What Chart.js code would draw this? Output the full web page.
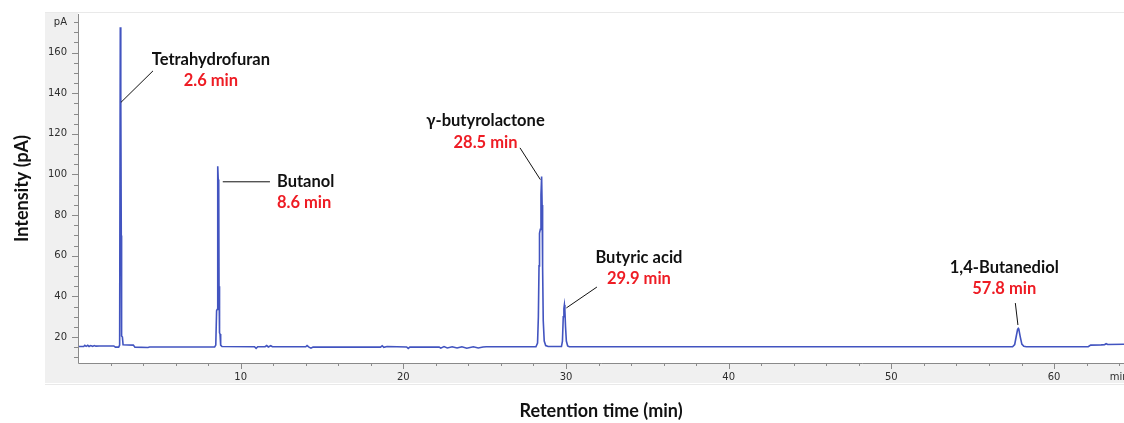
<!DOCTYPE html>
<html>
<head>
<meta charset="utf-8">
<script src="https://cdn.jsdelivr.net/npm/chart.js@4.4.1/dist/chart.umd.min.js"></script>
<style>
  html, body { margin: 0; padding: 0; background: #ffffff; }
  #wrap { width: 1124px; height: 423px; position: relative; }
</style>
</head>
<body>
<div id="wrap"><canvas id="chromatogram"></canvas></div>
<script>
// FID trace: retention time (min) and detector signal (pA)
const traceTime = [
  0, 0.35, 0.42, 0.5, 0.6, 0.68, 0.78, 0.9, 1.0, 1.1, 1.3, 1.6, 2.0, 2.2, 2.3, 2.5,
  2.56, 2.60, 2.62, 2.64, 2.66, 2.68, 2.73, 2.77, 3.4, 3.5, 4.3, 4.4, 8.4,
  8.47, 8.52, 8.55, 8.58, 8.60, 8.62, 8.65, 8.67, 8.70, 8.73, 8.77, 8.85,
  10.85, 10.95, 11.05, 11.5, 11.6, 11.7, 11.85, 11.95, 14.0, 14.08, 14.2, 14.32, 14.45,
  18.6, 18.7, 18.8, 19.0, 20.2, 20.3, 20.4, 22.2, 22.3, 22.5, 22.7, 23.0, 23.3, 23.6,
  23.9, 24.3, 24.6, 24.9, 25.1, 28.15, 28.25, 28.3, 28.34, 28.37, 28.42, 28.46, 28.50,
  28.53, 28.56, 28.6, 28.66, 28.75, 28.9, 29.72, 29.78, 29.83, 29.87, 29.90, 29.93,
  29.97, 30.02, 30.1, 30.2, 57.45, 57.58, 57.68, 57.76, 57.80, 57.84, 57.92, 58.02,
  58.14, 58.3, 62.1, 62.25, 62.9, 63.1, 63.2, 63.3, 64.5
];
const traceSignal = [
  15.3, 15.3, 15.9, 15.4, 15.9, 15.3, 15.8, 15.4, 15.8, 15.5, 15.6, 15.6, 15.6, 15.6, 15.0, 15.0,
  16.0, 172.5, 140, 139, 70, 20.5, 20.0, 16.2, 16.0, 15.0, 14.8, 15.1, 15.1,
  16.0, 33, 33.5, 60, 104, 97.5, 96.5, 45, 22, 21.5, 16.0, 15.3,
  15.2, 14.4, 15.2, 15.2, 15.8, 15.1, 15.7, 15.2, 15.2, 15.8, 15.0, 14.5, 15.1,
  15.0, 15.7, 14.9, 15.3, 15.1, 14.4, 15.0, 15.0, 14.5, 15.3, 14.6, 15.2, 14.6, 15.2,
  14.5, 15.2, 14.6, 15.1, 15.2, 15.2, 17, 30, 55, 71, 73, 90, 99,
  85, 55, 28, 18, 15.8, 15.3, 15.3, 18, 30, 34, 35.8, 33,
  25, 18, 15.6, 15.2, 15.2, 16.3, 20.5, 23.8, 24.2, 23.6, 20.2, 16.5,
  15.4, 15.2, 15.2, 16.0, 16.1, 16.2, 16.7, 16.3, 16.5
];

// Identified compounds and their retention times (min)
const compounds = ['Tetrahydrofuran', 'Butanol', 'γ-butyrolactone', 'Butyric acid', '1,4-Butanediol'];
const retentionTimes = [2.6, 8.6, 28.5, 29.9, 57.8];

// Axis ticks (minor + labelled)
const xTickValues = [2, 4, 6, 8, 10, 12, 14, 16, 18, 20, 22, 24, 26, 28, 30, 32, 34, 36, 38, 40,
  42, 44, 46, 48, 50, 52, 54, 56, 58, 60, 62, 64];
const xTickLabels = ['', '', '', '', '10', '', '', '', '', '20', '', '', '', '', '30', '', '', '', '', '40',
  '', '', '', '', '50', '', '', '', '', '60', '', 'min'];
const yTickValues = [10, 15, 20, 25, 30, 35, 40, 45, 50, 55, 60, 65, 70, 75, 80, 85, 90, 95, 100,
  105, 110, 115, 120, 125, 130, 135, 140, 145, 150, 155, 160, 165, 170, 175];
const yTickLabels = ['', '', '20', '', '', '', '40', '', '', '', '60', '', '', '', '80', '', '', '', '100',
  '', '', '', '120', '', '', '', '140', '', '', '', '160', '', '', 'pA'];

// Where each compound label sits (data coordinates) and where its leader line runs
const labelPlacement = [
  { x: 8.17, align: 'center', nameY: 156.5, timeY: 146.1, from: [4.61, 151.0], to: [0.04, 135.5] },
  { x: 12.23, align: 'left', nameY: 96.4, timeY: 86.0, from: [11.80, 96.4], to: [0.30, 96.4] },
  { x: 25.05, align: 'center', nameY: 126.4, timeY: 115.6, from: [27.17, 113.1], to: [-0.08, 97.5] },
  { x: 34.48, align: 'center', nameY: 58.9, timeY: 48.6, from: [31.9, 44.6], to: [0.12, 34.3] },
  { x: 56.94, align: 'center', nameY: 54.0, timeY: 43.6, from: [57.62, 36.7], to: [-0.02, 25.9] }
];

const labelFont = 'bold 16.5px Lato, "Open Sans", "DejaVu Sans", sans-serif';
const tickFont = { family: '"DejaVu Sans", sans-serif', size: 10 };
const titleFont = { family: 'Lato, "Open Sans", sans-serif', size: 18, weight: 'bold' };

// Grey instrument panel behind the plot
const panelPlugin = {
  id: 'panel',
  beforeDraw(chart) {
    const { ctx, chartArea: a } = chart;
    ctx.save();
    ctx.fillStyle = '#f0f0f0';
    ctx.fillRect(a.left - 33, a.top - 2, a.right - a.left + 33, a.bottom - a.top + 22);
    ctx.fillStyle = '#ffffff';
    ctx.fillRect(a.left, a.top - 1, a.right - a.left, a.bottom - a.top + 1);
    ctx.fillStyle = '#e9e9e9';
    ctx.fillRect(a.left - 33, a.top - 2, a.right - a.left + 33, 1);
    ctx.fillRect(a.left - 33, a.bottom + 21, a.right - a.left + 33, 1);
    ctx.restore();
  }
};

// Axis lines with long (labelled) and short tick marks
const axesPlugin = {
  id: 'axesMarks',
  afterDatasetsDraw(chart) {
    const { ctx, chartArea: a, scales: { x, y } } = chart;
    ctx.save();
    ctx.strokeStyle = '#8a8a8a';
    ctx.lineWidth = 1;
    ctx.beginPath();
    ctx.moveTo(a.left + 0.5, a.top);
    ctx.lineTo(a.left + 0.5, a.bottom + 0.5);
    ctx.lineTo(a.right, a.bottom + 0.5);
    ctx.stroke();
    ctx.beginPath();
    yTickValues.forEach((v, i) => {
      const py = Math.round(y.getPixelForValue(v)) + 0.5;
      const len = yTickLabels[i] && yTickLabels[i] !== 'pA' ? 6 : 4;
      ctx.moveTo(a.left - len, py);
      ctx.lineTo(a.left, py);
    });
    xTickValues.forEach((v, i) => {
      const px = Math.round(x.getPixelForValue(v)) + 0.5;
      const len = xTickLabels[i] && xTickLabels[i] !== 'min' ? 6 : 3;
      ctx.moveTo(px, a.bottom);
      ctx.lineTo(px, a.bottom + len);
    });
    ctx.stroke();
    ctx.restore();
  }
};

// Compound names, retention times and leader lines
const peakLabelPlugin = {
  id: 'peakLabels',
  afterDraw(chart) {
    const { ctx, scales: { x, y } } = chart;
    ctx.save();
    ctx.font = labelFont;
    ctx.textBaseline = 'middle';
    compounds.forEach((name, i) => {
      const p = labelPlacement[i];
      const rt = retentionTimes[i];
      const px = x.getPixelForValue(p.x);
      ctx.textAlign = p.align;
      ctx.fillStyle = '#111111';
      ctx.fillText(name, px, y.getPixelForValue(p.nameY));
      ctx.fillStyle = '#ee1c24';
      ctx.fillText(rt.toFixed(1) + ' min', px, y.getPixelForValue(p.timeY));
      ctx.strokeStyle = '#111111';
      ctx.lineWidth = 1;
      ctx.beginPath();
      ctx.moveTo(x.getPixelForValue(p.from[0]), y.getPixelForValue(p.from[1]));
      ctx.lineTo(x.getPixelForValue(rt + p.to[0]), y.getPixelForValue(p.to[1]));
      ctx.stroke();
    });
    ctx.restore();
  }
};

new Chart(document.getElementById('chromatogram'), {
  type: 'line',
  data: {
    datasets: [{
      data: traceTime.map((t, i) => ({ x: t, y: traceSignal[i] })),
      borderColor: '#4254c0',
      borderWidth: 1.6,
      pointRadius: 0,
      tension: 0,
      fill: false
    }]
  },
  options: {
    responsive: true,
    maintainAspectRatio: false,
    animation: false,
    events: [],
    layout: { padding: { top: 14, left: 0, right: 0, bottom: 0 } },
    plugins: { legend: { display: false }, tooltip: { enabled: false } },
    scales: {
      x: {
        type: 'linear',
        min: 0,
        max: 64.3,
        grid: { display: false, drawTicks: false },
        border: { display: false },
        afterBuildTicks: s => { s.ticks = xTickValues.map(v => ({ value: v })); },
        afterFit: s => { s.height = 60; s.paddingLeft = 0; s.paddingRight = 0; },
        ticks: {
          autoSkip: false,
          maxRotation: 0,
          padding: 8,
          color: '#2e2e2e',
          font: tickFont,
          callback: (v, i) => xTickLabels[i]
        },
        title: {
          display: true,
          text: 'Retention time (min)',
          color: '#111111',
          font: titleFont,
          padding: { top: 0, bottom: 1 }
        }
      },
      y: {
        type: 'linear',
        min: 7.2,
        max: 179,
        grid: { display: false, drawTicks: false },
        border: { display: false },
        afterBuildTicks: s => { s.ticks = yTickValues.map(v => ({ value: v })); },
        afterFit: s => { s.width = 78; s.paddingTop = 0; s.paddingBottom = 0; },
        ticks: {
          autoSkip: false,
          padding: 11,
          color: '#2e2e2e',
          font: tickFont,
          callback: (v, i) => yTickLabels[i]
        },
        title: {
          display: true,
          text: 'Intensity (pA)',
          color: '#111111',
          font: titleFont,
          padding: { top: 11, bottom: 0 }
        }
      }
    }
  },
  plugins: [panelPlugin, axesPlugin, peakLabelPlugin]
});
</script>
</body>
</html>
